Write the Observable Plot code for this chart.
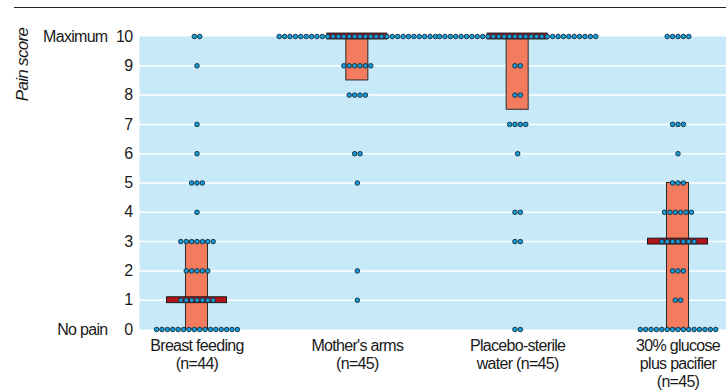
<!DOCTYPE html>
<html><head><meta charset="utf-8">
<script src="https://cdn.jsdelivr.net/npm/d3@7"></script>
<script src="https://cdn.jsdelivr.net/npm/@observablehq/plot@0.6"></script>
<style>
body{margin:0;background:#fff;}
#wrap{position:relative;width:726px;height:392px;}
#topline{position:absolute;left:14px;right:0;top:7px;height:0;border-top:1.5px solid #222;}
#wrap svg{font-family:"Liberation Sans",Arial,sans-serif;color:#1a1a1a;letter-spacing:-0.7px;}
</style></head><body><div id="wrap"><div id="topline"></div></div>
<script>
// Categories (tick labels)
const groups = ["Breast feeding\n(n=44)", "Mother's arms\n(n=45)", "Placebo-sterile\nwater (n=45)", "30% glucose\nplus pacifier\n(n=45)"];
// Pain scores 0..10
const scores = [0,1,2,3,4,5,6,7,8,9,10];
// Number of infants at each score (index = score), per group
const breastCounts  = [16,7,5,7,1,3,1,1,0,1,2];
const motherCounts  = [0,1,1,0,0,1,2,0,4,6,30];
const placeboCounts = [2,0,0,2,2,0,1,4,2,2,30];
const glucoseCounts = [15,2,3,7,6,3,1,3,0,0,5];
// Summary statistics
const medians = [1,10,10,3];
const q1 = [0,8.5,7.5,0];
const q3 = [3,10,10,5];
// Y tick labels
const yTicks = [0,1,2,3,4,5,6,7,8,9,10];

const counts = [breastCounts, motherCounts, placeboCounts, glucoseCounts];
const DOT_STEP = 0.0336, BOX_HALF = 0.0686, MED_HALF = 0.187, MED_H = 0.1;

const dots = [];
counts.forEach((arr, gi) => arr.forEach((n, i) => {
  for (let k = 0; k < n; k++) dots.push({gi, score: scores[i], off: k - (n - 1) / 2});
}));
const stats = groups.map((g, gi) => ({gi, med: medians[gi], q1: q1[gi], q3: q3[gi]}));

const chart = Plot.plot({
  width: 726, height: 392,
  marginLeft: 139, marginRight: 0, marginTop: 36, marginBottom: 63,
  x: {type: "linear", domain: [-0.3586, 3.3025]},
  y: {domain: [0, 10]},
  marks: [
    Plot.frame({fill: "#c8e9f8", stroke: null}),
    Plot.ruleY(yTicks.filter(t => t > 0 && t < 10), {stroke: "white", strokeWidth: 1.5}),
    Plot.axisY(yTicks, {tickSize: 0, tickPadding: 7, fontSize: 16, label: null}),
    Plot.axisX(d3.range(groups.length), {tickSize: 0, tickPadding: 9, fontSize: 16, lineHeight: 1.12, tickFormat: i => groups[i], label: null}),
    Plot.rect(stats, {x1: d => d.gi - BOX_HALF, x2: d => d.gi + BOX_HALF, y1: "q1", y2: "q3", fill: "#f37b5e", stroke: "#2a2a2a", strokeWidth: 1}),
    Plot.rect(stats, {x1: d => d.gi - MED_HALF, x2: d => d.gi + MED_HALF, y1: d => d.med - MED_H, y2: d => d.med + MED_H, fill: "#b3141c", stroke: "#1a1a1a", strokeWidth: 1}),
    Plot.dot(dots, {x: d => d.gi + d.off * DOT_STEP, y: "score", r: 2.3, fill: "#1a9ad6", stroke: "#0e2c3b", strokeWidth: 0.9}),
    Plot.text([{y: 10, t: "Maximum"}, {y: 0, t: "No pain"}], {y: "y", text: "t", frameAnchor: "left", dx: -32, textAnchor: "end", fontSize: 16}),
    Plot.text(["Pain score"], {frameAnchor: "top-left", dx: -124, dy: 28, rotate: -90, textAnchor: "middle", fontSize: 17, fontStyle: "italic"})
  ]
});
document.getElementById("wrap").appendChild(chart);
chart.style.position = "absolute";
chart.style.left = "0";
chart.style.top = "0";
</script>
</body></html>
